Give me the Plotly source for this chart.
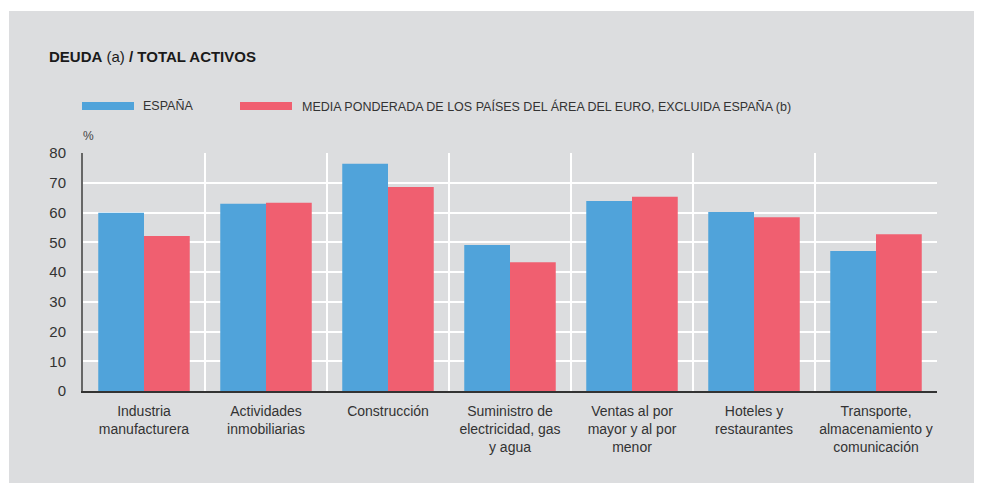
import plotly.graph_objects as go

categories = [
    "Industria<br>manufacturera",
    "Actividades<br>inmobiliarias",
    "Construcción",
    "Suministro de<br>electricidad, gas<br>y agua",
    "Ventas al por<br>mayor y al por<br>menor",
    "Hoteles y<br>restaurantes",
    "Transporte,<br>almacenamiento y<br>comunicación",
]
espana = [59.9, 62.9, 76.4, 49.1, 63.9, 60.2, 47.1]
media_euro = [52.1, 63.3, 68.6, 43.3, 65.3, 58.4, 52.7]
y_ticks = [0, 10, 20, 30, 40, 50, 60, 70, 80]

series_names = ["ESPAÑA", "MEDIA PONDERADA DE LOS PAÍSES DEL ÁREA DEL EURO, EXCLUIDA ESPAÑA (b)"]
title_text = "<b>DEUDA</b> (a) <b>/ TOTAL ACTIVOS</b>"
unit_text = "%"

BLUE = "#50A3DA"
RED = "#F05F70"
PANEL = "#DCDDDF"
FONT = "Liberation Sans, Arial, sans-serif"

fig = go.Figure()
fig.add_trace(go.Bar(x=categories, y=espana, name=series_names[0], marker_color=BLUE,
                     marker_line_width=0))
fig.add_trace(go.Bar(x=categories, y=media_euro, name=series_names[1], marker_color=RED,
                     marker_line_width=0))

# page body adds an 8px offset; figure coordinates below are page coords minus 8
OFF = 8
W, H = 982 - OFF, 483 - OFF
L, T = 83 - OFF, 153 - OFF
pw, ph = 854, 238
R, B = W - L - pw, H - T - ph
PLOT_TOP_PAGE = 153  # plot top in page coordinates

def ysh(page_y):
    return PLOT_TOP_PAGE - page_y

shapes = [
    # grey panel
    dict(type="rect", xref="paper", yref="paper", layer="below",
         x0=(9 - OFF - L) / pw, x1=(W + 20 - L) / pw,
         y0=(T + ph - (H + 20)) / ph, y1=(T + ph - (11 - OFF)) / ph,
         fillcolor=PANEL, line_width=0),
    # legend swatches
    dict(type="rect", xref="paper", yref="paper", xsizemode="pixel", ysizemode="pixel",
         xanchor=0, yanchor=1, x0=-1, x1=51, y0=ysh(110), y1=ysh(102),
         fillcolor=BLUE, line_width=0),
    dict(type="rect", xref="paper", yref="paper", xsizemode="pixel", ysizemode="pixel",
         xanchor=0, yanchor=1, x0=157, x1=209, y0=ysh(110), y1=ysh(102),
         fillcolor=RED, line_width=0),
]

annotations = [
    dict(text=title_text, xref="paper", yref="paper", x=0, y=1, xanchor="left",
         yanchor="middle", xshift=-36, yshift=ysh(56.5), showarrow=False,
         font=dict(family=FONT, size=15, color="#1a1a1a")),
    dict(text=series_names[0], xref="paper", yref="paper", x=0, y=1, xanchor="left",
         yanchor="middle", xshift=58, yshift=ysh(106), showarrow=False,
         font=dict(family=FONT, size=12.5, color="#333333")),
    dict(text=series_names[1], xref="paper", yref="paper", x=0, y=1, xanchor="left",
         yanchor="middle", xshift=217, yshift=ysh(106), showarrow=False,
         font=dict(family=FONT, size=12.5, color="#333333")),
    dict(text=unit_text, xref="paper", yref="paper", x=0, y=1, xanchor="left",
         yanchor="middle", xshift=-2, yshift=ysh(136), showarrow=False,
         font=dict(family=FONT, size=12, color="#444444")),
]

fig.update_layout(
    width=W, height=H,
    margin=dict(l=L, r=R, t=T, b=B, autoexpand=False),
    paper_bgcolor="white",
    plot_bgcolor="rgba(0,0,0,0)",
    barmode="group", bargap=0.25, bargroupgap=0,
    showlegend=False,
    shapes=shapes, annotations=annotations,
    font=dict(family=FONT, color="#333333"),
)
fig.update_xaxes(
    type="category", tickson="boundaries", showgrid=True, gridcolor="white", gridwidth=2,
    ticks="", showline=True, linecolor="#333333", linewidth=2,
    tickfont=dict(family=FONT, size=14, color="#333333"), ticklabelstandoff=6,
    range=[-0.5, 6.5],
)
fig.update_yaxes(
    range=[0, 80], tickvals=y_ticks, showgrid=True, gridcolor="white", gridwidth=2,
    zeroline=False, showline=True, linecolor="#666666", linewidth=2, ticks="",
    tickfont=dict(family=FONT, size=15, color="#333333"), ticklabelstandoff=12,
)

fig.write_html("out.html")
